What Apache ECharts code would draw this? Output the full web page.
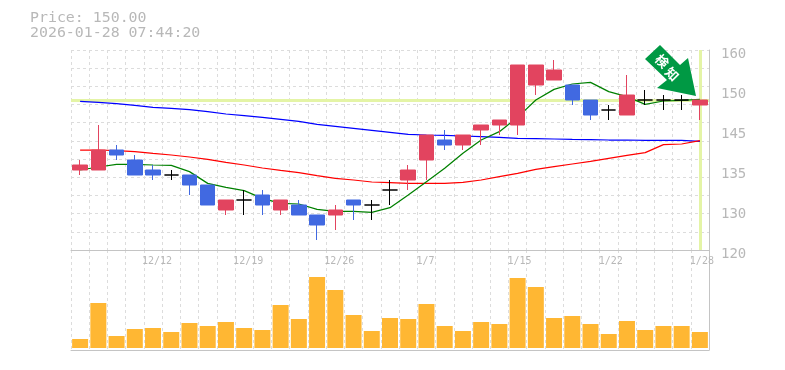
<!DOCTYPE html>
<html><head><meta charset="utf-8">
<style>html,body{margin:0;padding:0;background:#fff}#c{width:785px;height:370px}</style>
<script src="https://cdn.jsdelivr.net/npm/echarts@6/dist/echarts.min.js"></script>
</head><body><div id="c"></div>
<script>
const tickDates=['','','','','12/12','','','','','12/19','','','','','12/26','','','','','1/7','','','','','1/15','','','','','1/22','','','','','1/28'];
const yTickLabels=['120','130','135','145','150','160'];
// [open, close, low, high]
const ohlc=[
[136,137,135,138],[136,140,136,145],[140,139,138,141],[138,135,135,139],[136,135,134,137],[135,135,134,136],[135,133,131,135],
[133,129,129,133],[128,130,127,130],[130,130,127,132],[131,129,127,132],[128,130,127,130],[129,127,127,130],[127,125,122,127],
[127,128,124,129],[130,129,126,130],[129,129,126,130],[132,132,129,134],[134,136,132,137],[138,143,134,143],[142,141,140,144],
[141,143,140,143],[144,145,141,145],[145,146,143,146],[145,157,143,157],[153,157,151,157],[154,156,154,158],[153,150,149,153],
[150,147,146,150],[148,148,146,149],[147,151,147,155],[150,150,149,152],[150,150,148,151],[150,150,148,151],[149,150,146,150]];
const volume=[9,45,12,19,20,16,25,22,26,20,18,43,29,71,58,33,17,30,29,44,22,17,26,24,70,61,30,32,24,14,27,18,22,22,16];
const maShort=[136,136.6,137.13,137.13,137,136.93,135.67,133.33,132.53,131.87,130.33,129.33,129.2,128.13,127.73,127.73,127.53,128.47,131,133.67,136.33,139.33,142,143.67,146.53,150,152.13,153.2,153.53,151.67,150.67,149.13,149.8,149.93,150.13];
const maMid=[140,140,139.87,139.67,139.33,139,138.6,138.13,137.53,137,136.4,135.93,135.47,134.87,134.33,134,133.6,133.47,133.33,133.33,133.33,133.53,134,134.67,135.33,136.13,136.67,137.2,137.73,138.33,138.93,139.47,141.07,141.2,141.87];
const maLong=[149.73,149.53,149.27,148.93,148.53,148.33,148.07,147.67,147.2,146.87,146.53,146.13,145.73,145.13,144.73,144.33,143.93,143.53,143.13,143,142.93,142.8,142.67,142.53,142.33,142.27,142.2,142.13,142.07,142,142,141.93,141.93,141.93,141.73];
const priceNow=150;
const lastIndex=34;
const titleLines=['Price: 150.00','2026-01-28 07:44:20'];

const GREY='#b8b8b8',GRID='#dcdcdc',MONO='"DejaVu Sans Mono","Liberation Mono",monospace';
const chart=echarts.init(document.getElementById('c'),null,{renderer:'canvas'});
const dash={color:GRID,width:1,type:[3,3]};
const lineSeries=(data,color)=>({type:'line',data,xAxisIndex:0,yAxisIndex:0,symbol:'none',showSymbol:false,z:2,silent:true,lineStyle:{color,width:1.25}});
chart.setOption({
 animation:false,backgroundColor:'#fff',
 title:{text:titleLines.join('\n'),left:30,top:11,padding:0,textStyle:{fontFamily:MONO,fontSize:14.9,fontWeight:'normal',color:GREY,lineHeight:15}},
 grid:[{left:71,top:50,width:638,height:200},{left:71,top:250,width:638,height:100}],
 xAxis:[
  {type:'category',gridIndex:0,data:tickDates,boundaryGap:true,axisTick:{show:false},axisLine:{show:true,lineStyle:{color:'#c4c4c4'}},
   splitLine:{show:true,interval:0,lineStyle:dash},
   axisLabel:{interval:0,margin:6,hideOverlap:false,fontFamily:MONO,fontSize:10,color:GREY,
    formatter:v=>v?('{s'+v.length+'|'+v+'}'):'',
    rich:{s3:{padding:[0,2,0,0],fontFamily:MONO,fontSize:10,color:GREY},s4:{padding:[0,0,0,4],fontFamily:MONO,fontSize:10,color:GREY},s5:{padding:[0,0,0,8],fontFamily:MONO,fontSize:10,color:GREY}}}},
  {type:'category',gridIndex:1,data:tickDates,boundaryGap:true,axisTick:{show:false},axisLabel:{show:false},
   axisLine:{show:true,onZero:false,lineStyle:{color:'#c4c4c4'}},splitLine:{show:true,interval:0,lineStyle:dash}}
 ],
 yAxis:[
  {type:'value',gridIndex:0,position:'right',min:120,max:160,interval:8,axisTick:{show:false},splitLine:{show:false},
   axisLine:{show:true,lineStyle:{color:'#c4c4c4'}},
   axisLabel:{margin:12,align:'left',verticalAlign:'top',padding:[-3,0,0,0],fontFamily:MONO,fontSize:14,color:GREY,formatter:(v,i)=>yTickLabels[i]}},
  {type:'value',gridIndex:1,position:'right',min:-2,max:98,axisTick:{show:false},axisLabel:{show:false},splitLine:{show:false},
   axisLine:{show:true,onZero:false,lineStyle:{color:'#c4c4c4'}}},
  {type:'value',gridIndex:0,position:'left',min:0,max:11,interval:1,axisTick:{show:false},axisLabel:{show:false},axisLine:{show:false},
   splitLine:{show:true,lineStyle:dash}}
 ],
 series:[
  {type:'line',data:[],xAxisIndex:0,yAxisIndex:0,z:1,silent:true,
   markLine:{z:1,silent:true,symbol:'none',label:{show:false},animation:false,lineStyle:{color:'#e4f4a6',width:3,type:'solid'},
    data:[{yAxis:priceNow},{xAxis:lastIndex}]}},
  lineSeries(maLong,'#0000ff'),
  lineSeries(maMid,'#ff0000'),
  lineSeries(maShort,'#008000'),
  {type:'candlestick',data:ohlc,xAxisIndex:0,yAxisIndex:0,z:3,silent:true,barWidth:15,
   itemStyle:{color:'#e2445f',color0:'#4169e1',borderColor:'#e2445f',borderColor0:'#4169e1',borderColorDoji:'#000000',borderWidth:1}},
  {type:'bar',data:volume,xAxisIndex:1,yAxisIndex:1,barWidth:16,silent:true,itemStyle:{color:'#ffb733'}}
 ],
 graphic:[
  {type:'polygon',z:100,silent:true,shape:{points:[[660,45],[680,65],[688,58],[696,96],[657,88],[667,80],[645,59]]},style:{fill:'#009944'}},
  {type:'text',z:101,silent:true,x:662,y:61,rotation:-Math.PI/4,style:{text:'検',fill:'#fff',font:'bold 13px "Noto Sans CJK JP"',align:'center',verticalAlign:'middle'}},
  {type:'text',z:101,silent:true,x:672,y:74,rotation:-Math.PI/4,style:{text:'知',fill:'#fff',font:'bold 13px "Noto Sans CJK JP"',align:'center',verticalAlign:'middle'}}
 ]
});
</script></body></html>
